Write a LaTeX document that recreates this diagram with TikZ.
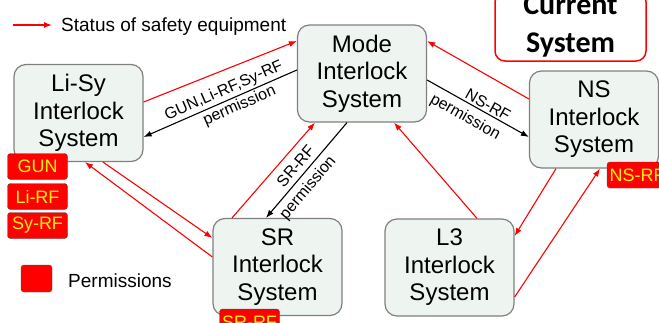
\documentclass[tikz,border=0pt]{standalone}
\usepackage{fontspec}
\setmainfont{Liberation Sans}
\newfontfamily\calibri{Carlito}
\usepackage{tikz}
\usetikzlibrary{arrows.meta}

\definecolor{boxfill}{HTML}{EEF5F1}
\definecolor{boxline}{HTML}{7F7F7F}

\begin{document}
\begin{tikzpicture}[x = 1pt, y = 1pt, node distance = 40pt,
    box/.style = {draw = boxline, fill = boxfill, rounded corners = 12pt, line width = 1.2pt,
                  minimum width = 129pt, minimum height = 97pt, inner sep = 0pt,
                  align = center, font = \fontsize{24}{27.5}\selectfont},
    tag/.style = {draw = black!70, fill = red, rounded corners = 3pt, minimum width = 60pt,
                  minimum height = 26pt, inner sep = 0pt, text = yellow,
                  font = \fontsize{18}{20}\selectfont},
    status/.style = {draw = red, line width = 1.1pt, -{Latex[length = 8pt, width = 6pt]}},
    perm/.style = {draw = black, line width = 1.1pt, -{Latex[length = 8pt, width = 6pt]}},
    lbl/.style = {sloped, inner sep = 2pt, font = \fontsize{16}{18}\selectfont}]
                        \path [use as bounding box, clip] (0,0) rectangle (659,-322);

                        % legend
                        \coordinate (key1) at (13,-25);
                        \coordinate (key2) at (52,-25);
                        \draw [status] (key1) -- (key2);
                        \node (keytext) [anchor = base west, inner sep = 0pt, font = \fontsize{19}{22}\selectfont] at (61,-31) {Status of safety equipment};
                        \node (permkey) [tag, minimum width = 31pt, minimum height = 27pt] at (36.5,-278.5) {};
                        \node (permtext) [anchor = base west, inner sep = 0pt, font = \fontsize{19}{22}\selectfont] at (68,-287) {Permissions};

                        \node (current) [draw = red, line width = 1.5pt, rounded corners = 10pt, minimum width = 151pt,
                                         minimum height = 69pt, align = center,
                                         font = \calibri\bfseries\fontsize{30}{38}\selectfont] at (570.5,-26.5) {\raisebox{-2pt}{Current}\\\raisebox{-2pt}{System}};

                        % interlock systems
                        \node (mode) [box] at (362,-73.5) {Mode\\Interlock\\System};
                        \node (lisy) [box, node distance = 283.5pt, left of = mode, yshift = -39.5pt] {Li-Sy\\Interlock\\System};
                        \node (ns) [box, node distance = 232pt, right of = mode, yshift = -46pt] {NS\\Interlock\\System};
                        \node (sr) [box, node distance = 193.5pt, below of = mode, xshift = -84.5pt] {SR\\Interlock\\System};
                        \node (l3) [box, node distance = 194pt, below of = mode, xshift = 87.5pt] {L3\\Interlock\\System};

                        \draw [status] ([yshift = 11pt]lisy.east) -- ([yshift = 32.5pt]mode.west);
                        \draw [perm] ([yshift = 3.5pt]mode.west) -- node [lbl, above, pos = 0.45] {GUN,Li-RF,Sy-RF}
                                                                node [lbl, below, pos = 0.4] {permission} ([yshift = -24pt]lisy.east);
                        \draw [status] ([yshift = 20.5pt]ns.west) -- ([yshift = 32.5pt]mode.east);
                        \draw [perm] ([yshift = -6.5pt]mode.east) -- node [lbl, above, pos = 0.56] {NS-RF}
                                                                 node [lbl, below = 4pt, pos = 0.44] {permission} ([yshift = -17.5pt]ns.west);
                        \draw [status] ([xshift = -45.5pt]sr.north) -- ([xshift = -47pt]mode.south);
                        \draw [perm] ([xshift = -15pt]mode.south) -- node [lbl, above = 3pt, pos = 0.53] {SR-RF}
                                                                 node [lbl, below = 3pt, pos = 0.6] {permission} ([xshift = -11.5pt]sr.north);
                        \draw [status] ([xshift = 27.5pt]l3.north) -- ([xshift = 32pt]mode.south);
                        \draw [status] ([xshift = -38pt]ns.south) -- ([yshift = 31.5pt]l3.east);
                        \draw [status] ([yshift = -29.5pt]l3.east) -- ([xshift = 6pt]ns.south);
                        \draw [status] ([xshift = 24.5pt]lisy.south) -- ([yshift = 29pt]sr.west);
                        \draw [status] ([yshift = 10pt]sr.west) -- ([xshift = 6.5pt]lisy.south);

                        % permissions
                        \node (gun) [tag, node distance = 53.5pt, below of = lisy, xshift = -41pt] {GUN};
                        \node (lirf) [tag, node distance = 30pt, below of = gun] {Li-RF};
                        \node (syrf) [tag, node distance = 29pt, below of = lirf] {Sy-RF};
                        \node (nsrf) [tag, node distance = 55.5pt, below of = ns, xshift = 43pt] {NS-RF};
                        \node (srrf) [tag, node distance = 55pt, below of = sr, xshift = -28pt] {SR-RF};
                    \end{tikzpicture}
\end{document}
